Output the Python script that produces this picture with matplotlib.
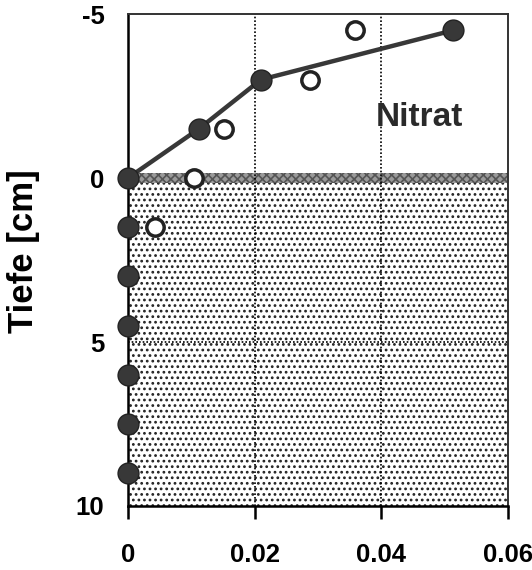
import matplotlib
matplotlib.use("Agg")
import matplotlib.pyplot as plt

# Data
water_depth = [0, -1.5, -3.0, -4.5]
water_conc = [0.0, 0.0112, 0.0210, 0.0513]
sed_depth = [1.5, 3.0, 4.5, 6.0, 7.5, 9.0]
sed_conc = [0.0, 0.0, 0.0, 0.0, 0.0, 0.0]
open_depth = [-4.5, -3.0, -1.5, 0.0, 1.5]
open_conc = [0.0358, 0.0288, 0.0151, 0.0104, 0.0042]
xticks = [0, 0.02, 0.04, 0.06]
xticklabels = ["0", "0.02", "0.04", "0.06"]
yticks = [-5, 0, 5, 10]
yticklabels = ["-5", "0", "5", "10"]

plt.rcParams['font.family'] = ['Liberation Sans', 'DejaVu Sans']
plt.rcParams['font.weight'] = 'bold'
plt.rcParams['hatch.linewidth'] = 1.2

fig = plt.figure(figsize=(5.32, 5.70), dpi=100)
ax = fig.add_axes([0.2406, 0.1123, 0.7142, 0.8631])

ax.set_xlim(0, 0.06)
ax.set_ylim(10, -5)

# sediment stipple
ax.axhspan(0, 10, facecolor='white', edgecolor='#222222', hatch='...', linewidth=0, zorder=0)
# interface band
ax.axhspan(-0.15, 0.15, facecolor='#9a9a9a', edgecolor='#555555', hatch='xxxx', linewidth=0, zorder=1)

# grid
for gx in [0.02, 0.04]:
    ax.axvline(gx, color='black', linestyle=(0, (1, 1.2)), linewidth=1.2, zorder=1.5)
ax.axhline(5, color='black', linestyle=(0, (1, 1.2)), linewidth=1.2, zorder=1.5)

dark = '#383838'
ax.plot(water_conc, water_depth, '-', color=dark, linewidth=3.2, zorder=3)
ax.plot(water_conc, water_depth, 'o', color=dark, markersize=15, markeredgecolor='#222222',
        markeredgewidth=1.0, clip_on=False, zorder=4)
ax.plot(sed_conc, sed_depth, 'o', color=dark, markersize=15, markeredgecolor='#222222',
        markeredgewidth=1.0, clip_on=False, zorder=4)
ax.plot(open_conc, open_depth, 'o', markerfacecolor='white', markeredgecolor='#222222',
        markersize=12.5, markeredgewidth=2.5, linestyle='none', clip_on=False, zorder=4)

ax.text(0.0461, -1.83, "Nitrat", fontsize=24, fontweight='bold', ha='center', va='center',
        color='#2a2a2a', zorder=5)

ax.set_xticks(xticks)
ax.set_xticklabels(xticklabels, fontsize=18.5, fontweight='bold')
ax.set_yticks(yticks)
ax.set_yticklabels(yticklabels, fontsize=18.5, fontweight='bold')
ax.tick_params(axis='x', direction='out', length=9, width=1.8, pad=18)
ax.tick_params(axis='y', length=0, pad=17)

ax.set_ylabel("Tiefe [cm]", fontsize=25, fontweight='bold', va='center')
ax.yaxis.set_label_coords(-0.276, 0.518)

for s in ['left', 'bottom']:
    ax.spines[s].set_linewidth(1.8)
    ax.spines[s].set_color('black')
for s in ['top', 'right']:
    ax.spines[s].set_linewidth(1.4)
    ax.spines[s].set_color('#333333')

fig.savefig("out.png", dpi=100)
